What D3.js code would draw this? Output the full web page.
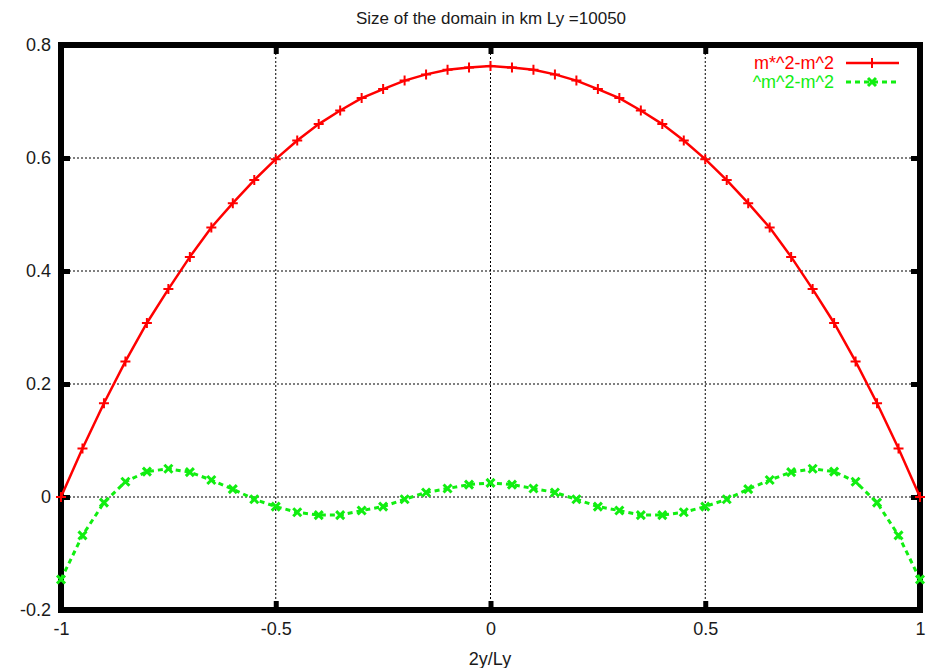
<!DOCTYPE html>
<html>
<head>
<meta charset="utf-8">
<script src="https://cdn.jsdelivr.net/npm/d3@7"></script>
<style>
    body { margin: 0; background: #fff; }
    svg text { font-family: "Liberation Sans", Arial, sans-serif; }
</style>
</head>
<body>
<div id="chart"></div>
<script>
// sample positions (2y/Ly)
var xs = [-1, -0.95, -0.9, -0.85, -0.8, -0.75, -0.7, -0.65, -0.6, -0.55, -0.5,
    -0.45, -0.4, -0.35, -0.3, -0.25, -0.2, -0.15, -0.1, -0.05, 0,
    0.05, 0.1, 0.15, 0.2, 0.25, 0.3, 0.35, 0.4, 0.45, 0.5,
    0.55, 0.6, 0.65, 0.7, 0.75, 0.8, 0.85, 0.9, 0.95, 1];

// m*^2-m^2
var redValues = [0, 0.086, 0.166, 0.240, 0.308, 0.368, 0.425, 0.477, 0.520, 0.561, 0.598,
    0.631, 0.660, 0.684, 0.706, 0.722, 0.737, 0.748, 0.756, 0.760, 0.763,
    0.760, 0.756, 0.748, 0.737, 0.722, 0.706, 0.684, 0.660, 0.631, 0.598,
    0.561, 0.520, 0.477, 0.425, 0.368, 0.308, 0.240, 0.166, 0.086, 0];

// ^m^2-m^2
var greenValues = [-0.146, -0.068, -0.010, 0.027, 0.045, 0.050, 0.044, 0.030, 0.014, -0.004, -0.017,
    -0.027, -0.032, -0.032, -0.024, -0.017, -0.004, 0.008, 0.015, 0.022, 0.025,
    0.022, 0.015, 0.008, -0.004, -0.017, -0.024, -0.032, -0.032, -0.027, -0.017,
    -0.004, 0.014, 0.030, 0.044, 0.050, 0.045, 0.027, -0.010, -0.068, -0.146];

var xTicks = [-1, -0.5, 0, 0.5, 1];
var xTickLabels = ["-1", "-0.5", "0", "0.5", "1"];
var yTicks = [-0.2, 0, 0.2, 0.4, 0.6, 0.8];
var yTickLabels = ["-0.2", "0", "0.2", "0.4", "0.6", "0.8"];

var seriesNames = ["m*^2-m^2", "^m^2-m^2"];
var seriesColors = ["#ff0000", "#11ee11"];

var width = 928, height = 668;
var margin = {top: 45, right: 8, bottom: 58, left: 61};
var w = width - margin.left - margin.right;
var h = height - margin.top - margin.bottom;

var svg = d3.select("#chart").append("svg")
    .attr("width", width)
    .attr("height", height);

var g = svg.append("g")
    .attr("transform", "translate(" + margin.left + "," + margin.top + ")");

var x = d3.scaleLinear().domain([-1, 1]).range([0, w]);
var y = d3.scaleLinear().domain([-0.2, 0.8]).range([h, 0]);

// dotted grid
var gridX = xTicks.filter(function (d) { return d > -1 && d < 1; });
var gridY = yTicks.filter(function (d) { return d > -0.2 && d < 0.8; });

g.selectAll(".vgrid").data(gridX).enter().append("line")
    .attr("x1", function (d) { return x(d); })
    .attr("x2", function (d) { return x(d); })
    .attr("y1", 0).attr("y2", h)
    .attr("stroke", "#000").attr("stroke-width", 1)
    .attr("stroke-dasharray", "2,2");

g.selectAll(".hgrid").data(gridY).enter().append("line")
    .attr("x1", 0).attr("x2", w)
    .attr("y1", function (d) { return y(d); })
    .attr("y2", function (d) { return y(d); })
    .attr("stroke", "#000").attr("stroke-width", 1)
    .attr("stroke-dasharray", "2,2");

// axes, ticks pointing inward
function styleAxis(sel, showLabels) {
    sel.select(".domain").remove();
    sel.selectAll(".tick line").attr("stroke", "#000").attr("stroke-width", 5);
    sel.selectAll(".tick text")
        .style("font-size", "18px")
        .attr("fill", "#1a1a1a");
    if (!showLabels) sel.selectAll(".tick text").remove();
}

var xAxis = g.append("g")
    .attr("transform", "translate(0," + h + ")")
    .call(d3.axisBottom(x).tickValues(xTicks).tickSize(-9).tickPadding(12)
        .tickFormat(function (d, i) { return xTickLabels[i]; }));
styleAxis(xAxis, true);

var yAxis = g.append("g")
    .call(d3.axisLeft(y).tickValues(yTicks).tickSize(-9).tickPadding(10)
        .tickFormat(function (d, i) { return yTickLabels[i]; }));
styleAxis(yAxis, true);

var topAxis = g.append("g")
    .call(d3.axisTop(x).tickValues(xTicks).tickSize(-9));
styleAxis(topAxis, false);

var rightAxis = g.append("g")
    .attr("transform", "translate(" + w + ",0)")
    .call(d3.axisRight(y).tickValues(yTicks).tickSize(-9));
styleAxis(rightAxis, false);

// frame
g.append("rect")
    .attr("x", 0).attr("y", 0)
    .attr("width", w).attr("height", h)
    .attr("fill", "none")
    .attr("stroke", "#000")
    .attr("stroke-width", 6);

// series
var line = d3.line()
    .x(function (d) { return x(d[0]); })
    .y(function (d) { return y(d[1]); });

var redData = xs.map(function (d, i) { return [d, redValues[i]]; });
var greenData = xs.map(function (d, i) { return [d, greenValues[i]]; });

var plusPath = "M-5,0H5M0,-5V5";
var crossPath = "M-4,-4L4,4M-4,4L4,-4";

g.append("path")
    .datum(greenData)
    .attr("d", line)
    .attr("fill", "none")
    .attr("stroke", seriesColors[1])
    .attr("stroke-width", 3)
    .attr("stroke-dasharray", "5,4");

g.selectAll(".gmark").data(greenData).enter().append("path")
    .attr("transform", function (d) { return "translate(" + x(d[0]) + "," + y(d[1]) + ")"; })
    .attr("d", crossPath)
    .attr("stroke", seriesColors[1])
    .attr("stroke-width", 3);

g.append("path")
    .datum(redData)
    .attr("d", line)
    .attr("fill", "none")
    .attr("stroke", seriesColors[0])
    .attr("stroke-width", 2.5);

g.selectAll(".rmark").data(redData).enter().append("path")
    .attr("transform", function (d) { return "translate(" + x(d[0]) + "," + y(d[1]) + ")"; })
    .attr("d", plusPath)
    .attr("stroke", seriesColors[0])
    .attr("stroke-width", 2);

// legend
var legend = svg.append("g");
var legendY = [63, 82];
seriesNames.forEach(function (name, i) {
    legend.append("text")
        .attr("x", 834).attr("y", legendY[i])
        .attr("dy", "0.35em")
        .attr("text-anchor", "end")
        .style("font-size", "18px")
        .attr("fill", seriesColors[i])
        .text(name);
    legend.append("line")
        .attr("x1", 846).attr("x2", 899)
        .attr("y1", legendY[i]).attr("y2", legendY[i])
        .attr("stroke", seriesColors[i])
        .attr("stroke-width", i == 0 ? 2.5 : 3)
        .attr("stroke-dasharray", i == 0 ? null : "5,4");
    legend.append("path")
        .attr("transform", "translate(872," + legendY[i] + ")")
        .attr("d", i == 0 ? plusPath : crossPath)
        .attr("stroke", seriesColors[i])
        .attr("stroke-width", i == 0 ? 2 : 3);
});

// title and axis label
svg.append("text")
    .attr("x", 491).attr("y", 24)
    .attr("text-anchor", "middle")
    .style("font-size", "17px")
    .attr("fill", "#1a1a1a")
    .text("Size of the domain in km Ly =10050");

svg.append("text")
    .attr("x", 490).attr("y", 665)
    .attr("text-anchor", "middle")
    .style("font-size", "18px")
    .attr("fill", "#1a1a1a")
    .text("2y/Ly");
</script>
</body>
</html>
